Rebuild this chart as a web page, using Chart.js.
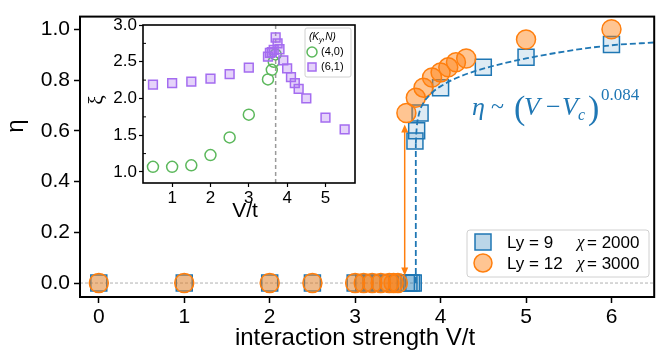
<!DOCTYPE html>
<html><head><meta charset="utf-8">
<script src="https://cdn.jsdelivr.net/npm/chart.js@4"></script>
<style>
html,body{margin:0;padding:0;background:#fff;}
#wrap{position:relative;width:667px;height:354px;overflow:hidden;}
#main{position:absolute;left:0;top:0;}
#inset{position:absolute;left:60px;top:0;}
</style></head><body>
<div id="wrap"><canvas id="main" width="667" height="354"></canvas><canvas id="inset" width="310" height="225"></canvas></div>
<script>
// ---- main panel data ----
const xTicks = [0, 1, 2, 3, 4, 5, 6];
const yTicks = [0.0, 0.2, 0.4, 0.6, 0.8, 1.0];
const ly9V   = [0, 1, 2, 2.5, 3.0, 3.1, 3.2, 3.3, 3.4, 3.5, 3.6, 3.63, 3.66, 3.68, 3.70, 3.72, 3.76, 4.0, 4.5, 5.0, 6.0];
const ly9Eta = [0, 0, 0, 0,   0,   0,   0,   0,   0,   0,   0,   0,    0,    0,    0.56, 0.60, 0.67, 0.77, 0.85, 0.89, 0.94];
const ly12V   = [0, 1, 2, 2.5, 3.0, 3.1, 3.2, 3.3, 3.4, 3.45, 3.5, 3.6, 3.71, 3.8, 3.9, 4.0, 4.09, 4.18, 4.3, 5.0, 6.0];
const ly12Eta = [0, 0, 0, 0,   0,   0,   0,   0,   0,   0,    0,   0.67, 0.73, 0.77, 0.81, 0.83, 0.85, 0.87, 0.885, 0.96, 1.0];
// dashed fit curve eta ~ (V - Vc)^0.084
const fitJumpV   = [3.71, 3.71];
const fitJumpEta = [0.0, 0.55];
const fitV   = [3.71, 3.72, 3.75, 3.8, 3.9, 4.0, 4.2, 4.5, 5.0, 5.5, 6.0, 6.5];
const fitEta = [0.55, 0.61, 0.67, 0.71, 0.75, 0.775, 0.81, 0.845, 0.885, 0.915, 0.937, 0.948];
const zeroLineV = [-0.22, 6.5];
const zeroLineEta = [0, 0];
const arrowV = 3.58, arrowFrom = 0.03, arrowTo = 0.625;
const fitExponent = "0.084";

// ---- inset data ----
const insetXTicks = [1, 2, 3, 4, 5];
const insetYTicks = [1.0, 1.5, 2.0, 2.5, 3.0];
const insetYMinor = [1.25, 1.75, 2.25, 2.75];
const k40V  = [0.5, 1.0, 1.5, 2.0, 2.5, 3.0, 3.5, 3.6, 3.65, 3.7];
const k40Xi = [1.07, 1.07, 1.09, 1.23, 1.47, 1.78, 2.26, 2.39, 2.50, 2.60];
const k61V  = [0.5, 1.0, 1.5, 2.0, 2.5, 3.0, 3.5, 3.55, 3.6, 3.65, 3.7, 3.75, 3.8, 3.9, 4.0, 4.1, 4.2, 4.3, 4.5, 5.0, 5.5];
const k61Xi = [2.19, 2.21, 2.23, 2.27, 2.33, 2.42, 2.57, 2.62, 2.63, 2.66, 2.83, 2.75, 2.67, 2.52, 2.41, 2.29, 2.21, 2.13, 2.00, 1.74, 1.58];
const vcLineV = [3.7, 3.7];
const vcLineXi = [0.85, 3.0];

const pts = (xs, ys) => xs.map((x, i) => ({x, y: ys[i]}));
const BLUE = '#1f77b4', ORANGE = '#ff7f0e';
const SANS = '"Liberation Sans", Arial, sans-serif';
const SERIF = '"Liberation Serif", "DejaVu Serif", serif';

function drawFrame(chart, lw) {
  const {ctx, chartArea: a} = chart;
  ctx.save();
  ctx.strokeStyle = '#000'; ctx.lineWidth = lw;
  ctx.strokeRect(a.left, a.top, a.right - a.left, a.bottom - a.top);
  ctx.restore();
}

const mainPlugin = {
  id: 'mainDeco',
  afterDraw(chart) {
    const {ctx, chartArea: a, scales: {x, y}} = chart;
    drawFrame(chart, 2);
    ctx.save();
    // double-headed arrow
    const ax = x.getPixelForValue(arrowV), y1 = y.getPixelForValue(arrowFrom), y2 = y.getPixelForValue(arrowTo);
    ctx.strokeStyle = ORANGE; ctx.fillStyle = ORANGE; ctx.lineWidth = 1.5;
    ctx.beginPath(); ctx.moveTo(ax, y1 - 5); ctx.lineTo(ax, y2 + 5); ctx.stroke();
    ctx.beginPath(); ctx.moveTo(ax, y1); ctx.lineTo(ax - 3.5, y1 - 8); ctx.lineTo(ax + 3.5, y1 - 8); ctx.closePath(); ctx.fill();
    ctx.beginPath(); ctx.moveTo(ax, y2); ctx.lineTo(ax - 3.5, y2 + 8); ctx.lineTo(ax + 3.5, y2 + 8); ctx.closePath(); ctx.fill();
    // axis titles
    ctx.fillStyle = '#000';
    ctx.font = '24px ' + SANS; ctx.textAlign = 'center'; ctx.textBaseline = 'alphabetic';
    ctx.fillText('interaction strength V/t', 355, 345);
    ctx.save(); ctx.translate(23, 126); ctx.rotate(-Math.PI / 2);
    ctx.font = '24px ' + SANS; ctx.fillText('η', 0, 0); ctx.restore();
    // formula
    ctx.fillStyle = BLUE; ctx.textAlign = 'left';
    const bl = 115;
    ctx.font = 'italic 26px ' + SERIF; ctx.fillText('η', 472, bl);
    ctx.font = '24px ' + SERIF; ctx.fillText('~', 491, bl - 1);
    ctx.font = '34px ' + SERIF; ctx.fillText('(', 514, bl + 4);
    ctx.font = 'italic 26px ' + SERIF; ctx.fillText('V', 524, bl);
    ctx.font = '26px ' + SERIF; ctx.fillText('−', 546, bl);
    ctx.font = 'italic 26px ' + SERIF; ctx.fillText('V', 562, bl);
    ctx.font = 'italic 16px ' + SERIF; ctx.fillText('c', 578, bl + 5);
    ctx.font = '34px ' + SERIF; ctx.fillText(')', 588, bl + 4);
    ctx.font = '17px ' + SERIF; ctx.fillText(fitExponent, 601, bl - 15);
    // legend
    const lx = 467, ly = 230, lw = 182, lh = 47;
    ctx.beginPath(); ctx.roundRect(lx, ly, lw, lh, 3);
    ctx.fillStyle = 'rgba(255,255,255,0.85)'; ctx.fill();
    ctx.strokeStyle = '#d0d0d0'; ctx.lineWidth = 1; ctx.stroke();
    ctx.lineWidth = 1.5;
    ctx.fillStyle = 'rgba(31,119,180,0.3)'; ctx.strokeStyle = BLUE;
    ctx.fillRect(475, 234, 16, 16); ctx.strokeRect(475, 234, 16, 16);
    ctx.beginPath(); ctx.arc(483, 263, 9, 0, Math.PI * 2);
    ctx.fillStyle = 'rgba(255,127,14,0.45)'; ctx.fill(); ctx.strokeStyle = ORANGE; ctx.stroke();
    ctx.fillStyle = '#000'; ctx.font = '17px ' + SANS; ctx.textBaseline = 'middle';
    ctx.fillText('Ly = 9', 507, 243);
    ctx.fillText('Ly = 12', 507, 264);
    ctx.font = 'italic 17px ' + SERIF; ctx.fillText('χ', 577, 243); ctx.fillText('χ', 577, 264);
    ctx.font = '17px ' + SANS; ctx.fillText('= 2000', 587, 243); ctx.fillText('= 3000', 587, 264);
    ctx.restore();
  }
};

new Chart(document.getElementById('main'), {
  type: 'scatter',
  data: {datasets: [
    {label: 'zero', data: pts(zeroLineV, zeroLineEta), showLine: true, borderColor: '#b0b0b0', borderWidth: 1, borderDash: [3, 2], pointRadius: 0, order: 4},
    {label: 'Ly = 9  χ = 2000', data: pts(ly9V, ly9Eta), pointStyle: 'rect', pointRadius: 11.3, borderColor: BLUE, backgroundColor: 'rgba(31,119,180,0.15)', borderWidth: 1.5, order: 3},
    {label: 'Ly = 12  χ = 3000', data: pts(ly12V, ly12Eta), pointStyle: 'circle', pointRadius: 9.5, borderColor: ORANGE, backgroundColor: 'rgba(255,127,14,0.45)', borderWidth: 1.5, order: 2},
    {label: 'fit jump', data: pts(fitJumpV, fitJumpEta), showLine: true, borderColor: BLUE, borderWidth: 1.8, borderDash: [6, 3], pointRadius: 0, order: 1},
    {label: 'fit', data: pts(fitV, fitEta), showLine: true, cubicInterpolationMode: 'monotone', borderColor: BLUE, borderWidth: 1.8, borderDash: [6, 3], pointRadius: 0, order: 0}
  ]},
  options: {
    responsive: false, animation: false, devicePixelRatio: 1,
    layout: {padding: {left: 0, right: 10, top: 10, bottom: 0}},
    plugins: {legend: {display: false}, tooltip: {enabled: false}},
    scales: {
      x: {type: 'linear', min: -0.22, max: 6.5,
        afterBuildTicks: s => { s.ticks = xTicks.map(v => ({value: v})); },
        afterFit: s => { s.height = 57; },
        ticks: {color: '#000', font: {family: SANS, size: 21}, padding: 2, maxRotation: 0, callback: v => String(v)},
        grid: {drawOnChartArea: false, drawTicks: true, tickLength: 6, tickWidth: 1.5, tickColor: '#000'},
        border: {display: false}},
      y: {type: 'linear', min: -0.055, max: 1.05,
        afterBuildTicks: s => { s.ticks = yTicks.map(v => ({value: v})); },
        afterFit: s => { s.width = 80; },
        ticks: {color: '#000', font: {family: SANS, size: 21}, padding: 4, callback: v => Number(v).toFixed(1)},
        grid: {drawOnChartArea: false, drawTicks: true, tickLength: 6, tickWidth: 1.5, tickColor: '#000'},
        border: {display: false}}
    }
  },
  plugins: [mainPlugin]
});

const insetPlugin = {
  id: 'insetDeco',
  beforeDraw(chart) {
    const {ctx, chartArea: a} = chart;
    ctx.save(); ctx.fillStyle = '#fff';
    ctx.fillRect(a.left, a.top, a.right - a.left, a.bottom - a.top); ctx.restore();
  },
  afterDraw(chart) {
    const {ctx, chartArea: a, scales: {x, y}} = chart;
    drawFrame(chart, 1.6);
    ctx.save();
    ctx.strokeStyle = '#000'; ctx.lineWidth = 1;
    insetYMinor.forEach(v => { const py = y.getPixelForValue(v); ctx.beginPath(); ctx.moveTo(a.left, py); ctx.lineTo(a.left + 3, py); ctx.stroke(); });
    ctx.fillStyle = '#000'; ctx.textAlign = 'center';
    ctx.font = '21px ' + SANS; ctx.fillText('V/t', 185, 217);
    ctx.save(); ctx.translate(43, 100); ctx.rotate(-Math.PI / 2);
    ctx.font = '21px ' + SERIF; ctx.fillText('ξ', 0, 0); ctx.restore();
    // legend
    const lx = 245, ly = 28, lw = 46, lh = 49;
    ctx.beginPath(); ctx.roundRect(lx, ly, lw, lh, 2);
    ctx.fillStyle = 'rgba(255,255,255,0.85)'; ctx.fill();
    ctx.strokeStyle = '#d0d0d0'; ctx.lineWidth = 1; ctx.stroke();
    ctx.fillStyle = '#000'; ctx.textAlign = 'left'; ctx.textBaseline = 'middle';
    ctx.font = 'italic 10px ' + SANS; ctx.fillText('(K', 249, 37);
    const w1 = ctx.measureText('(K').width;
    ctx.font = 'italic 7px ' + SANS; ctx.fillText('y', 249 + w1, 40);
    const w2 = ctx.measureText('y').width;
    ctx.font = 'italic 10px ' + SANS; ctx.fillText(',N)', 249 + w1 + w2, 37);
    ctx.lineWidth = 1.5;
    ctx.beginPath(); ctx.arc(252, 52, 5, 0, Math.PI * 2); ctx.strokeStyle = '#5cb85c'; ctx.stroke();
    ctx.fillStyle = 'rgba(168,110,240,0.3)'; ctx.fillRect(248, 63, 8, 8); ctx.strokeStyle = '#a46cf0'; ctx.strokeRect(248, 63, 8, 8);
    ctx.fillStyle = '#000'; ctx.font = '11px ' + SANS;
    ctx.fillText('(4,0)', 261, 52); ctx.fillText('(6,1)', 261, 67);
    ctx.restore();
  }
};

new Chart(document.getElementById('inset'), {
  type: 'scatter',
  data: {datasets: [
    {label: 'Vc', data: pts(vcLineV, vcLineXi), showLine: true, borderColor: '#9a9a9a', borderWidth: 1.5, borderDash: [4, 3], pointRadius: 0, order: 2},
    {label: '(4,0)', data: pts(k40V, k40Xi), pointStyle: 'circle', pointRadius: 5.5, borderColor: '#5cb85c', backgroundColor: 'rgba(255,255,255,0)', borderWidth: 1.5, order: 1},
    {label: '(6,1)', data: pts(k61V, k61Xi), pointStyle: 'rect', pointRadius: 6.2, borderColor: '#a46cf0', backgroundColor: 'rgba(168,110,240,0.3)', borderWidth: 1.5, order: 0}
  ]},
  options: {
    responsive: false, animation: false, devicePixelRatio: 1,
    layout: {padding: {left: 0, right: 15, top: 25, bottom: 0}},
    plugins: {legend: {display: false}, tooltip: {enabled: false}},
    scales: {
      x: {type: 'linear', min: 0.24, max: 5.77,
        afterBuildTicks: s => { s.ticks = insetXTicks.map(v => ({value: v})); },
        afterFit: s => { s.height = 42; },
        ticks: {color: '#000', font: {family: SANS, size: 17}, padding: 1, maxRotation: 0, callback: v => String(v)},
        grid: {drawOnChartArea: false, drawTicks: true, tickLength: 4, tickWidth: 1.2, tickColor: '#000'},
        border: {display: false}},
      y: {type: 'linear', min: 0.85, max: 3.0,
        afterBuildTicks: s => { s.ticks = insetYTicks.map(v => ({value: v})); },
        afterFit: s => { s.width = 83; },
        ticks: {color: '#000', font: {family: SANS, size: 17}, padding: 2, callback: v => Number(v).toFixed(1)},
        grid: {drawOnChartArea: false, drawTicks: true, tickLength: 4, tickWidth: 1.2, tickColor: '#000'},
        border: {display: false}}
    }
  },
  plugins: [insetPlugin]
});
</script>
</body></html>
